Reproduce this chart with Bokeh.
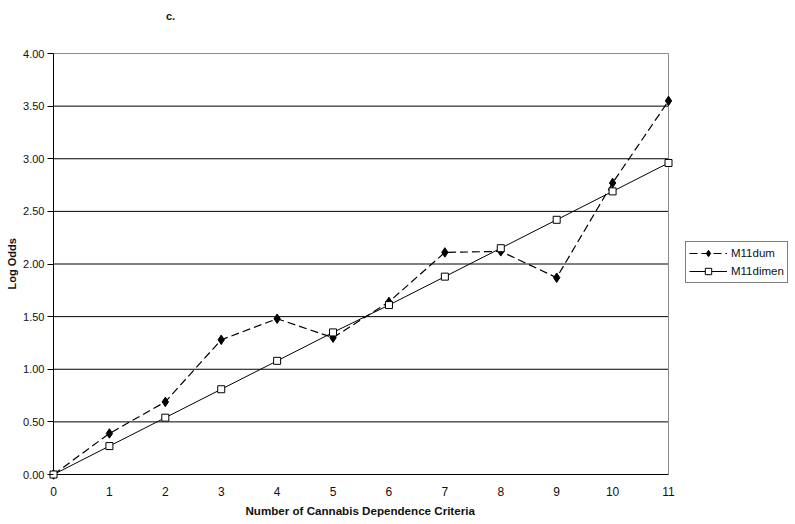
from bokeh.plotting import figure
from bokeh.models import (Range1d, FixedTicker, PrintfTickFormatter, Legend, LegendItem,
                          ColumnDataSource, Label, Title)
from bokeh.embed import file_html
from bokeh.resources import INLINE

criteria = [0, 1, 2, 3, 4, 5, 6, 7, 8, 9, 10, 11]
m11dum = [0.00, 0.39, 0.69, 1.28, 1.48, 1.30, 1.64, 2.11, 2.12, 1.87, 2.77, 3.55]
m11dimen = [0.00, 0.27, 0.54, 0.81, 1.08, 1.35, 1.61, 1.88, 2.15, 2.42, 2.69, 2.96]
y_ticks = [0.0, 0.5, 1.0, 1.5, 2.0, 2.5, 3.0, 3.5, 4.0]
x_ticks = criteria
title_text = "c."
x_title = "Number of Cannabis Dependence Criteria"
y_title = "Log Odds"
series_names = ["M11dum", "M11dimen"]

FONT = "Liberation Sans"
TXT = "#111111"

# layout (pixels): plot area 53..668 horizontally, 53..474 vertically
W, H = 795, 524
PL, PR, PT, PB = 53, 668, 53, 474
FL, FB = 47, 480          # frame left / bottom edge (frame reaches page top and right)

x0, x1 = x_ticks[0], x_ticks[-1]
y0, y1 = y_ticks[0], y_ticks[-1]
xs = (x1 - x0) / (PR - PL)
ys = (y1 - y0) / (PB - PT)

src = ColumnDataSource(dict(x=criteria, dum=m11dum, dimen=m11dimen))

p = figure(frame_width=W - FL, frame_height=FB, output_backend="svg", toolbar_location=None,
           x_range=Range1d(x0 - (PL - FL) * xs, x1 + (W - PR) * xs),
           y_range=Range1d(y0 - (FB - PB) * ys, y1 + PT * ys),
           min_border_left=FL, min_border_right=0, min_border_top=0, min_border_bottom=H - FB)
p.background_fill_color = "white"
p.border_fill_color = "white"
p.outline_line_color = None

# axes
p.xaxis.ticker = FixedTicker(ticks=x_ticks)
p.yaxis.ticker = FixedTicker(ticks=y_ticks)
p.yaxis.formatter = PrintfTickFormatter(format="%.2f")
for ax in (p.xaxis[0], p.yaxis[0]):
    ax.axis_line_color = None
    ax.major_label_text_font = FONT
    ax.major_label_text_color = TXT
    ax.minor_tick_line_color = None
p.xaxis.major_label_text_font_size = "12px"
p.yaxis.major_label_text_font_size = "11px"
p.xaxis.major_tick_line_color = None
p.xaxis.major_tick_out = 0
p.xaxis.major_tick_in = 0
p.xaxis.major_label_standoff = 6
p.yaxis.major_tick_line_color = "black"
p.yaxis.major_tick_out = 0
p.yaxis.major_tick_in = 6
p.yaxis.major_label_standoff = 3

p.xgrid.grid_line_color = None
p.ygrid.grid_line_color = None

# axis titles
p.add_layout(Title(text=x_title, align="left", offset=198, standoff=6,
                   text_font=FONT, text_font_size="11.6px", text_font_style="bold",
                   text_color=TXT), "below")
p.add_layout(Title(text=y_title, align="left", offset=191, standoff=6,
                   text_font=FONT, text_font_size="11px", text_font_style="bold",
                   text_color=TXT), "left")

# plot area frame and horizontal grid lines (drawn from the tick values)
inner = y_ticks[1:-1]
p.segment(x0=[x0] * len(inner), y0=inner, x1=[x1] * len(inner), y1=inner,
          line_color="black", line_width=1)
p.segment(x0=[x0, x1], y0=[y1, y0], x1=[x1, x1], y1=[y1, y1],
          line_color="#8c8c8c", line_width=1)
p.segment(x0=[x0, x0], y0=[y0, y0], x1=[x1, x0], y1=[y0, y1],
          line_color="black", line_width=1)

# series
l1 = p.line("x", "dum", source=src, line_color="black", line_width=1.2, line_dash="8 4")
s1 = p.scatter("x", "dum", source=src, marker="diamond", size=9.5,
               fill_color="black", line_color="black")
l2 = p.line("x", "dimen", source=src, line_color="black", line_width=1)
s2 = p.scatter("x", "dimen", source=src, marker="square", size=7,
               fill_color="white", line_color="black", line_width=1)

legend = Legend(items=[LegendItem(label=series_names[0], renderers=[l1, s1]),
                       LegendItem(label=series_names[1], renderers=[l2, s2])],
                location=(685 - FL, FB - 283))
legend.label_text_font = FONT
legend.label_text_font_size = "11.5px"
legend.label_text_color = TXT
legend.border_line_color = "black"
legend.border_line_width = 1
legend.background_fill_color = "white"
legend.glyph_width = 38
legend.glyph_height = 16
legend.label_height = 16
legend.label_standoff = 4
legend.padding = 3
legend.spacing = 2
legend.margin = 0
p.add_layout(legend, "center")

# chart title "c."
p.add_layout(Label(x=x0 + (170 - PL) * xs, y=y1 + (PT - 15) * ys, text=title_text,
                   text_font=FONT, text_font_size="11px", text_font_style="bold",
                   text_align="center", text_baseline="middle", text_color=TXT))

open("out.html", "w").write(file_html(p, INLINE))
